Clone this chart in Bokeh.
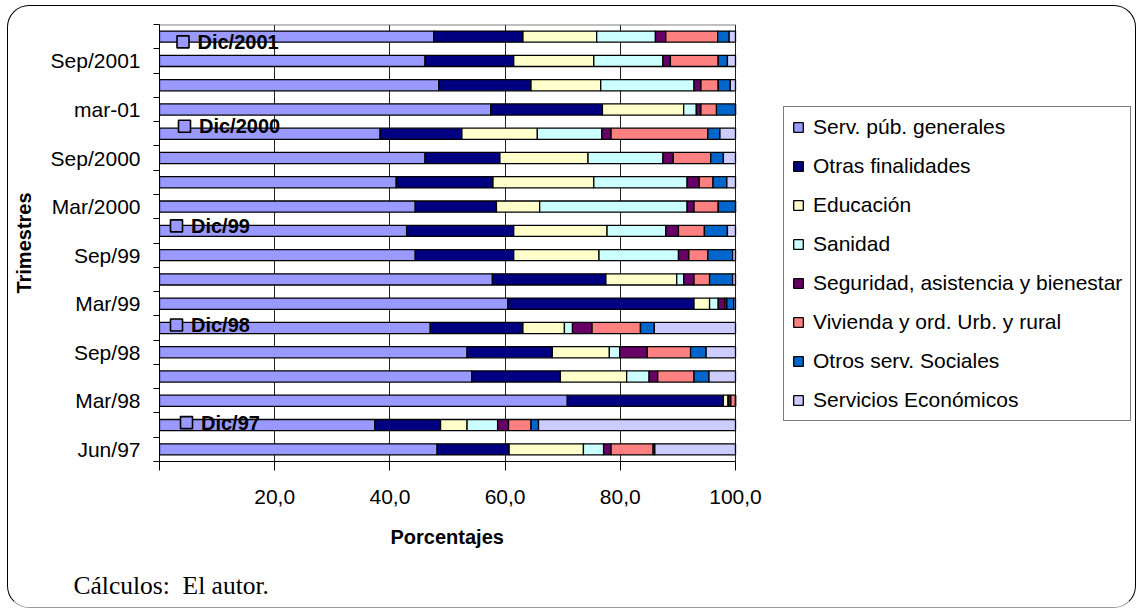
from bokeh.plotting import figure
from bokeh.models import FixedTicker, ColumnDataSource, Range1d, Title, InlineStyleSheet
from bokeh.core.properties import value
from bokeh.embed import file_html
from bokeh.resources import INLINE

# ---------------- data (bottom to top) ----------------
categories = ["Jun/97", "Dic/97", "Mar/98", "Jun/98", "Sep/98", "Dic/98",
              "Mar/99", "Jun/99", "Sep/99", "Dic/99", "Mar/2000", "Jun/2000",
              "Sep/2000", "Dic/2000", "mar-01", "Jun/2001", "Sep/2001", "Dic/2001"]

serv_pub_generales = [48.2, 37.4, 70.8, 54.2, 53.4, 47.0, 60.5, 57.8, 44.4, 42.9, 44.4, 41.1, 46.1, 38.3, 57.5, 48.5, 46.1, 47.6]
otras_finalidades  = [12.5, 11.4, 27.1, 15.4, 14.8, 16.1, 32.3, 19.7, 17.1, 18.6, 14.1, 16.8, 13.0, 14.2, 19.4, 16.0, 15.4, 15.5]
educacion          = [12.9, 4.6, 0.8, 11.5, 9.9, 7.2, 2.7, 12.3, 14.8, 16.2, 7.5, 17.5, 15.3, 13.1, 14.1, 12.1, 13.9, 12.8]
sanidad            = [3.5, 5.3, 0.1, 3.9, 1.8, 1.4, 1.5, 1.2, 13.8, 10.2, 25.6, 16.2, 13.0, 11.2, 2.2, 16.2, 12.0, 10.2]
seguridad          = [1.3, 1.9, 0.4, 1.5, 4.8, 3.4, 1.2, 1.8, 1.8, 2.2, 1.2, 2.1, 1.8, 1.6, 0.8, 1.2, 1.3, 1.8]
vivienda           = [7.3, 3.9, 0.8, 6.3, 7.5, 8.4, 0.3, 2.7, 3.3, 4.5, 4.2, 2.4, 6.5, 16.8, 2.7, 3.0, 8.3, 9.0]
otros_serv_soc     = [0.3, 1.3, 0.0, 2.6, 2.7, 2.4, 1.2, 4.0, 4.3, 4.0, 3.0, 2.4, 2.2, 2.1, 3.3, 2.1, 1.6, 2.0]
serv_economicos    = [14.0, 34.2, 0.0, 4.6, 5.1, 14.1, 0.3, 0.5, 0.5, 1.4, 0.0, 1.5, 2.1, 2.7, 0.0, 0.9, 1.4, 1.1]

series_names = ["Serv. púb. generales", "Otras finalidades", "Educación", "Sanidad",
                "Seguridad, asistencia y bienestar", "Vivienda y ord. Urb. y rural",
                "Otros serv. Sociales", "Servicios Económicos"]
series_values = [serv_pub_generales, otras_finalidades, educacion, sanidad,
                 seguridad, vivienda, otros_serv_soc, serv_economicos]
colors = ["#9999FF", "#000080", "#FFFFCC", "#CCFFFF", "#660066", "#FF8080", "#0066CC", "#CCCCFF"]

x_ticks = [0, 20, 40, 60, 80, 100]
x_tick_labels = ["", "20,0", "40,0", "60,0", "80,0", "100,0"]

x_title = "Porcentajes"
y_title = "Trimestres"
source_note = "Cálculos:\u00a0 El autor."

# ---------------- layout ----------------
W, H = 1136, 608
FW, FH = 576, 437          # size of the 0..100 plotting area
BL, BT = 159, 24
BR = 0
BB = H - BT - FH
n = len(categories)
px_x = FW / 100.0
px_y = FH / float(n)
x_end = 100.0 * (W - BL - BR) / FW   # frame extends to the right to host the legend

FONT = "Liberation Sans"

p = figure(width=W, height=H, output_backend="svg", toolbar_location=None,
           x_range=Range1d(0, x_end), y_range=Range1d(0, n),
           min_border_left=BL, min_border_right=BR, min_border_top=BT, min_border_bottom=BB)
p.stylesheets = [InlineStyleSheet(css=(
    ":host::after { content: ''; position: absolute; left: 7px; top: 5px; "
    "width: 1129px; height: 603px; box-sizing: border-box; border: 1.5px solid #000; "
    "border-bottom-color: #9a9a9a; border-radius: 22px; pointer-events: none; z-index: 100; }"))]
p.background_fill_color = None
p.border_fill_color = None
p.outline_line_color = None

keys = ["s%d" % k for k in range(len(series_values))]
data = {"y": [i + 0.5 for i in range(n)]}
for k, vals in zip(keys, series_values):
    data[k] = vals
src = ColumnDataSource(data)

p.hbar_stack(keys, y="y", height=0.46, fill_color=colors, line_color="black",
             line_width=1.3, source=src, legend_label=series_names)

# plot-area top border (0..100 only)
p.segment(x0=[x_ticks[0]], y0=[n], x1=[x_ticks[-1]], y1=[n], line_color="#808080", line_width=2)

# grid
p.ygrid.visible = False
p.xgrid.ticker = FixedTicker(ticks=x_ticks)
p.xgrid.grid_line_color = "#202020"
p.xgrid.grid_line_width = 1

# x axis
xa = p.xaxis[0]
xa.bounds = (x_ticks[0], x_ticks[-1])
xa.ticker = FixedTicker(ticks=x_ticks)
xa.major_label_overrides = {t: lab for t, lab in zip(x_ticks, x_tick_labels)}
xa.axis_line_color = "black"
xa.major_tick_line_color = "black"
xa.major_tick_in = 0
xa.major_tick_out = 9
xa.minor_tick_line_color = None
xa.major_label_text_font = FONT
xa.major_label_text_font_size = "21px"
xa.major_label_text_color = "black"
xa.major_label_standoff = 19

# x-axis title, centred under the 0..100 span
p.add_layout(Title(text=x_title, align="left", offset=231, standoff=35,
                   text_font=FONT, text_font_size="20px", text_font_style="bold",
                   text_color="black"), "below")

# y axis
ya = p.yaxis[0]
label_idx = list(range(0, n, 2))
ya.ticker = FixedTicker(ticks=[i + 0.5 for i in label_idx], minor_ticks=list(range(n + 1)))
ya.major_label_overrides = {i + 0.5: categories[i] for i in label_idx}
ya.axis_line_color = "black"
ya.major_tick_line_color = None
ya.major_tick_in = 0
ya.major_tick_out = 0
ya.minor_tick_line_color = "black"
ya.minor_tick_in = 0
ya.minor_tick_out = 6
ya.major_label_text_font = FONT
ya.major_label_text_font_size = "21px"
ya.major_label_text_color = "black"
ya.major_label_standoff = 13
ya.axis_label = y_title
ya.axis_label_text_font = FONT
ya.axis_label_text_font_size = "20px"
ya.axis_label_text_font_style = "bold"
ya.axis_label_text_color = "black"
ya.axis_label_standoff = 13

# "Dic" data labels with legend key (Excel-style)
dic_idx = list(range(1, n, 4))
dic_labels = [categories[i] for i in dic_idx]
key_dx = [27, 17, 17, 25, 23.5]      # px from plot left
key_dy = [-2.5, -3, -5, -7.5, 5.2]   # px, down positive
sq_x = [dx / px_x for dx in key_dx]
sq_y = [i + 0.5 - dy / px_y for i, dy in zip(dic_idx, key_dy)]
tx = [(dx + 14.5) / px_x for dx in key_dx]
p.scatter(x=sq_x, y=sq_y, marker="square", size=12,
          fill_color=colors[0], line_color="black", line_width=1.6)
p.text(x=tx, y=sq_y, text=dic_labels, text_font=value(FONT), text_font_style="bold",
       text_font_size="20px", text_baseline="middle", text_align="left", text_color="black")

# legend
lg = p.legend[0]
lg.location = (783 - BL, BT + FH - 421)
lg.border_line_color = "black"
lg.border_line_width = 1
lg.background_fill_color = "white"
lg.background_fill_alpha = 1
lg.label_text_font = FONT
lg.label_text_font_size = "21px"
lg.label_text_color = "black"
lg.glyph_width = 12
lg.glyph_height = 12
lg.label_standoff = 9
lg.label_height = 20
lg.padding = 8
lg.spacing = 15
lg.margin = 0

# source note
p.add_layout(Title(text=source_note, align="left", offset=73 - BL, standoff=7,
                   text_font="Liberation Serif", text_font_size="25.5px",
                   text_font_style="normal", text_color="black"), "below")

open("out.html", "w").write(file_html(p, INLINE))
